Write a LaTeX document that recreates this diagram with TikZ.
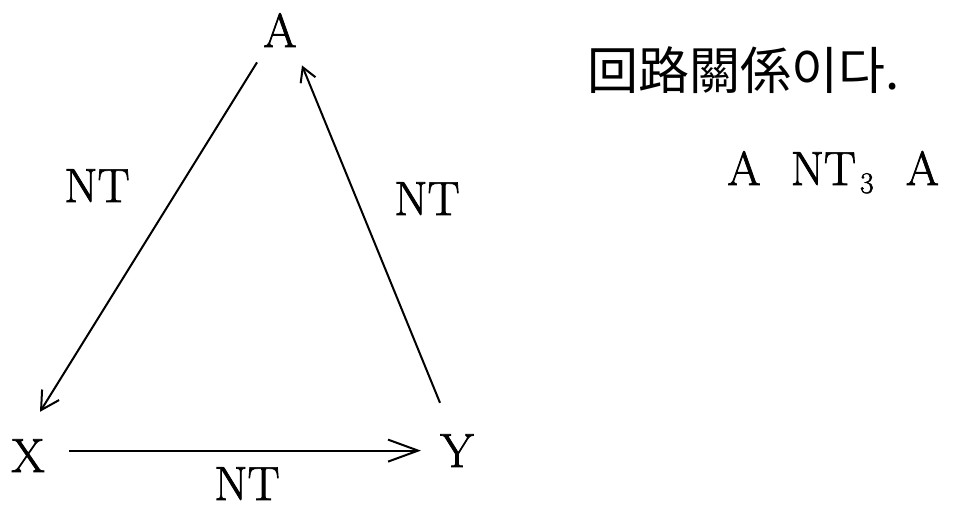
\documentclass[tikz,border=0pt]{standalone}
\usepackage{fontspec}
\newfontfamily\krfont{Noto Sans CJK KR}
\newfontfamily\lmthick{Latin Modern Roman}[FakeBold=1.5]
\usetikzlibrary{arrows.meta}
\begin{document}
\begin{tikzpicture}[x=0.5pt,y=-0.5pt,
  lbl/.style={inner sep=0pt,anchor=base,font=\lmthick\fontsize{24}{28}\selectfont},
  conn/.style={line width=1pt},
  smallbarb/.style={-{Straight Barb[length=7pt,width=8pt,line width=1pt]}},
  leftbarb/.style={-{Straight Barb[length=9pt,width=10pt,line width=1pt]}},
  bigbarb/.style={-{Straight Barb[length=15pt,width=11pt,line width=1pt]}}
]
\useasboundingbox (0,0) rectangle (957,509);
\node[lbl] (A) at (280,47) {A};
\node[lbl] (X) at (28,472) {X};
\node[lbl] (Y) at (457,467) {Y};
\node[lbl] (ntl) at (97,202) {NT};
\node[lbl] (ntr) at (427,215) {NT};
\node[lbl] (ntb) at (247,500) {NT};
\node[lbl,anchor=base west,font=\krfont\fontsize{25.5}{28}\selectfont] (kr) at (587,89) {回路關係이다.};
\node[lbl,anchor=base west] (rel) at (727,185) {A\hspace{15pt}NT\hspace{2pt}\raisebox{-4pt}{\fontsize{15}{16}\selectfont 3}\hspace{16pt}A};
\draw[conn,leftbarb] ([shift={(-23,15)}]A.south) -- ([shift={(12,-27)}]X.north);
\draw[conn,smallbarb] ([shift={(-17,-31)}]Y.north) -- ([shift={(22,18)}]A.south);
\draw[conn,bigbarb] ([shift={(24,-5)}]X.east) -- ([shift={(-19,0)}]Y.west);
\end{tikzpicture}
\end{document}
